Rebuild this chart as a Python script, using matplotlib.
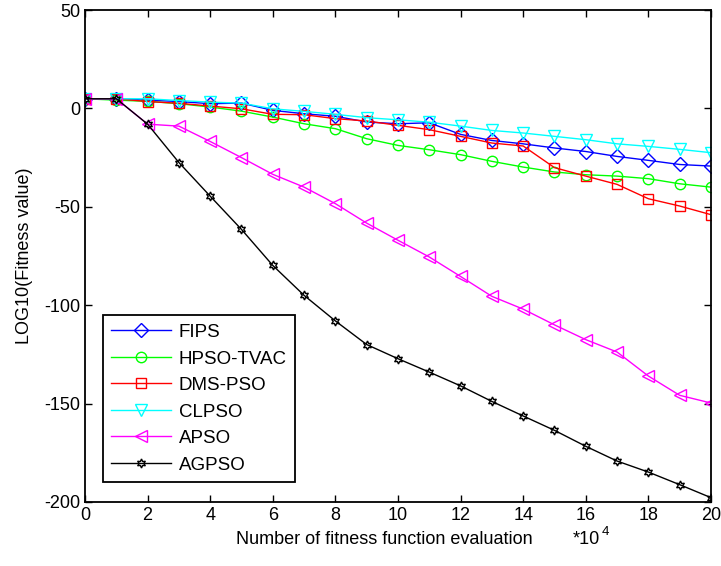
import numpy as np
import matplotlib
matplotlib.use('Agg')
import matplotlib.pyplot as plt

plt.rcParams['font.family'] = ['Liberation Sans', 'DejaVu Sans']
plt.rcParams['axes.unicode_minus'] = False

# evaluations (x 10^4)
evals = list(range(21))

fips  = [4.9, 4.9, 4.2, 3.5, 2.4, 2.7, -1.0, -2.7, -4.0, -6.9, -7.8, -7.3, -13.2, -16.3, -18.0, -20.1, -21.9, -24.4, -26.4, -28.5, -29.3]
hpso  = [4.9, 4.2, 3.6, 2.4, 0.7, -1.4, -4.4, -7.8, -10.3, -15.4, -18.8, -21.0, -23.5, -26.9, -29.8, -32.3, -33.7, -34.4, -35.7, -38.3, -40.0]
dms   = [4.9, 4.9, 3.5, 2.6, 1.2, -0.2, -3.0, -3.2, -5.2, -6.4, -8.6, -10.8, -14.2, -17.6, -19.1, -30.1, -34.4, -38.6, -45.9, -49.6, -54.0]
clpso = [4.9, 4.9, 4.9, 4.0, 3.2, 2.7, -0.2, -1.5, -3.0, -4.7, -5.8, -7.0, -9.0, -11.2, -12.5, -14.2, -15.9, -18.0, -19.3, -20.8, -22.5]
apso  = [4.9, 4.9, -8.0, -9.0, -16.8, -25.0, -33.5, -40.0, -48.4, -58.3, -67.0, -75.5, -85.4, -95.5, -102.0, -110.0, -117.5, -123.8, -136.0, -145.8, -149.7]
agpso = [4.9, 4.9, -8.0, -27.5, -44.6, -61.5, -79.8, -95.0, -108.0, -120.0, -127.2, -134.0, -141.0, -148.9, -156.3, -163.6, -171.7, -179.2, -184.8, -191.2, -197.8]

names   = ['FIPS', 'HPSO-TVAC', 'DMS-PSO', 'CLPSO', 'APSO', 'AGPSO']
series  = [fips, hpso, dms, clpso, apso, agpso]
colors  = ['#0000FF', '#00FF00', '#FF0000', '#00FFFF', '#FF00FF', '#000000']
markers = ['D', 'o', 's', 'v', '<', (6, 1, 0)]
msizes  = [7, 7.5, 7.5, 8.5, 9, 6.5]

fig = plt.figure(figsize=(7.21, 5.66), dpi=100)
ax = fig.add_axes([0.1179, 0.1131, 0.8682, 0.8692])

for y, nm, c, m, ms in zip(series, names, colors, markers, msizes):
    ax.plot(evals, y, color=c, marker=m, markersize=ms, markerfacecolor='none',
            markeredgecolor=c, markeredgewidth=1.0, linewidth=1.0, label=nm)

ax.set_xlim(0, 20)
ax.set_ylim(-200, 50)
ax.set_xticks(range(0, 21, 2))
ax.set_yticks(range(-200, 51, 50))
ax.tick_params(direction='in', top=True, right=True, length=5, width=1, labelsize=13)
for s in ax.spines.values():
    s.set_linewidth(1.3)

ax.set_ylabel('LOG10(Fitness value)', fontsize=13, labelpad=8)
ax.text(0.478, -0.076, 'Number of fitness function evaluation', transform=ax.transAxes,
        ha='center', va='center', fontsize=13)
ax.text(0.779, -0.076, '*10', transform=ax.transAxes, ha='left', va='center', fontsize=13)
ax.text(0.826, -0.062, '4', transform=ax.transAxes, ha='left', va='center', fontsize=9.5)

leg = ax.legend(loc='lower left', bbox_to_anchor=(0.0288, 0.0407), borderaxespad=0,
                fancybox=False, framealpha=1, edgecolor='black', fontsize=13.5,
                handlelength=3.2, handletextpad=0.4, labelspacing=0.5, borderpad=0.45)
leg.get_frame().set_linewidth(1.3)

fig.savefig('out.png', dpi=100)
